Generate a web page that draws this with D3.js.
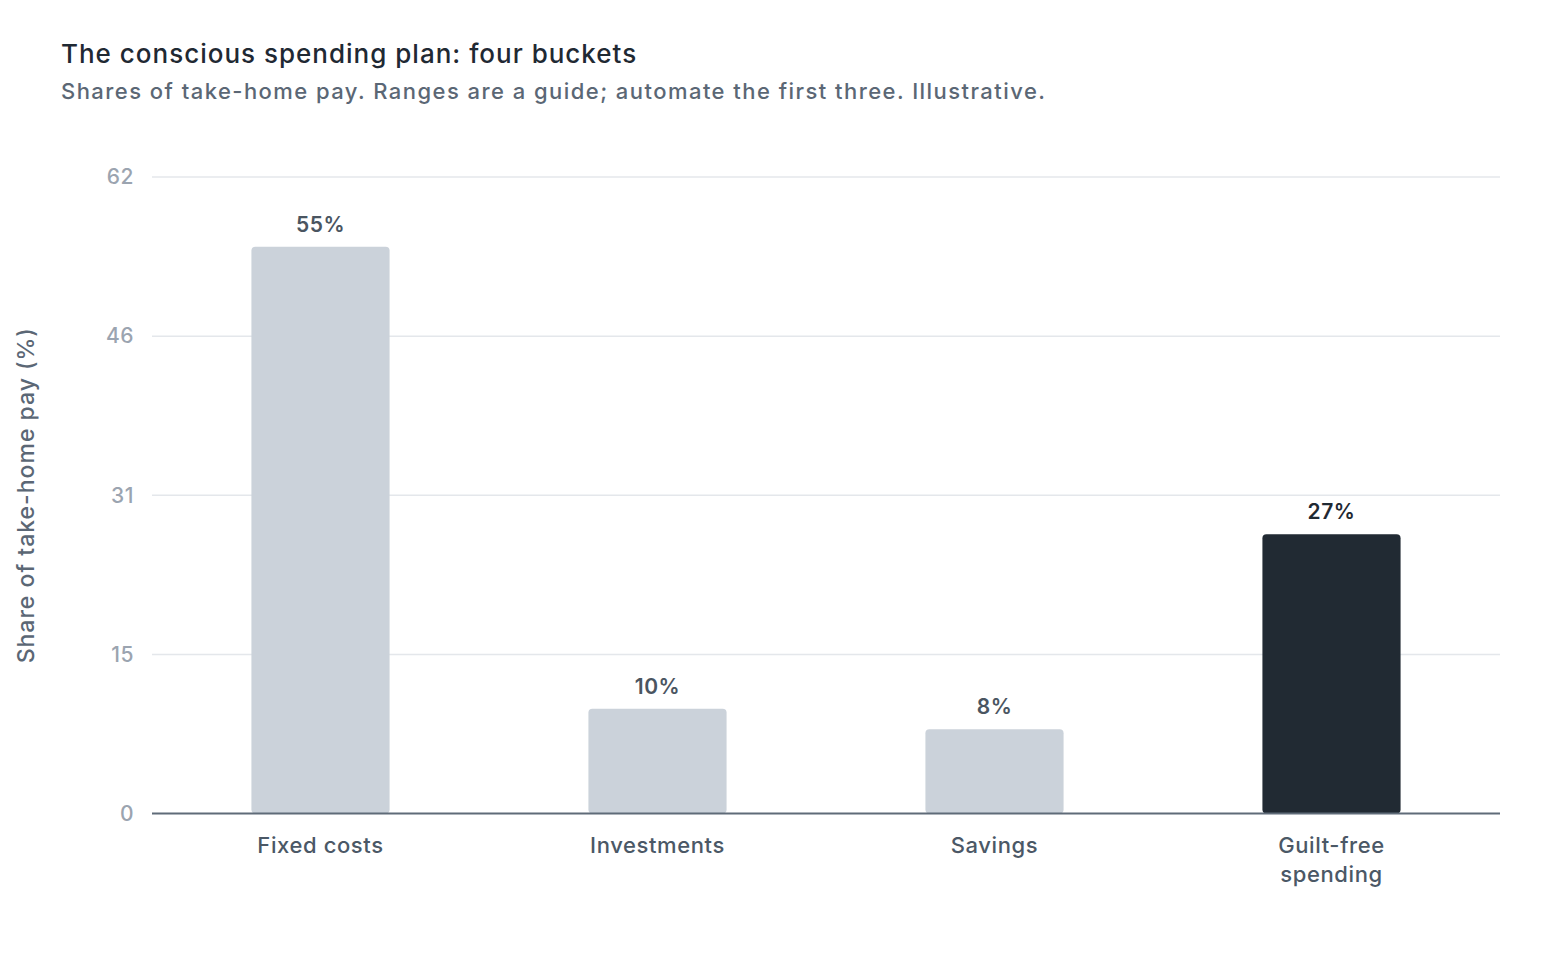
<!DOCTYPE html>
<html>
<head>
    <meta charset="utf-8" />
    <script src="https://cdn.jsdelivr.net/npm/d3@7"></script>
    <style>
        body { margin: 0; background: #fff; }
        text { font-family: Inter, "Open Sans", sans-serif; }
    </style>
</head>
<body>
    <script>
        // data
        var categories = ["Fixed costs", "Investments", "Savings", "Guilt-free spending"];
        var shares = [55, 10, 8, 27];
        var highlight = [false, false, false, true];
        var tickValues = [0, 15.5, 31, 46.5, 62];
        var tickLabels = ["0", "15", "31", "46", "62"];

        var width = 1560,
            height = 953,
            margin = { top: 177, right: 60, bottom: 140, left: 152 };

        var svg = d3.select("body").append("svg")
            .attr("width", width)
            .attr("height", height);

        svg.append("text")
            .attr("x", 61).attr("y", 63)
            .attr("font-size", "26px")
            .attr("font-weight", 500)
            .attr("letter-spacing", "1px")
            .attr("fill", "#1f2933")
            .text("The conscious spending plan: four buckets");

        svg.append("text")
            .attr("x", 61).attr("y", 99)
            .attr("font-size", "22px")
            .attr("font-weight", 500)
            .attr("letter-spacing", "1.45px")
            .attr("fill", "#5b6775")
            .text("Shares of take-home pay. Ranges are a guide; automate the first three. Illustrative.");

        var x = d3.scaleBand()
            .domain(categories)
            .range([margin.left, width - margin.right])
            .paddingInner(0.59)
            .paddingOuter(0.295);

        var y = d3.scaleLinear()
            .domain([0, 62])
            .range([813.5, margin.top]);

        // gridlines
        svg.append("g")
            .selectAll("line")
            .data(tickValues.slice(1))
            .enter().append("line")
            .attr("x1", margin.left)
            .attr("x2", width - margin.right)
            .attr("y1", function (d) { return y(d); })
            .attr("y2", function (d) { return y(d); })
            .attr("stroke", "#e4e7eb")
            .attr("stroke-width", 1.5);

        // y tick labels
        svg.append("g")
            .selectAll("text")
            .data(tickValues)
            .enter().append("text")
            .attr("x", 134)
            .attr("y", function (d) { return y(d); })
            .attr("dy", "0.35em")
            .attr("text-anchor", "end")
            .attr("font-size", "21px")
            .attr("font-weight", 500)
            .attr("letter-spacing", "0.5px")
            .attr("fill", "#9ba4b0")
            .text(function (d, i) { return tickLabels[i]; });

        svg.append("text")
            .attr("transform", "translate(34," + ((y(0) + y(62)) / 2) + ") rotate(-90)")
            .attr("text-anchor", "middle")
            .attr("font-size", "23px")
            .attr("font-weight", 500)
            .attr("letter-spacing", "1px")
            .attr("fill", "#5b6775")
            .text("Share of take-home pay (%)");

        var rows = categories.map(function (c, i) {
            return { cat: c, v: shares[i], hi: highlight[i] };
        });

        svg.append("g")
            .selectAll("rect")
            .data(rows)
            .enter().append("rect")
            .attr("x", function (d) { return x(d.cat); })
            .attr("width", x.bandwidth())
            .attr("y", function (d) { return y(d.v) - 2; })
            .attr("height", function (d) { return y(0) - y(d.v) + 2; })
            .attr("rx", 4)
            .attr("fill", function (d) { return d.hi ? "#212a33" : "#cbd2da"; });

        svg.append("g")
            .selectAll("text")
            .data(rows)
            .enter().append("text")
            .attr("x", function (d) { return x(d.cat) + x.bandwidth() / 2; })
            .attr("y", function (d) { return y(d.v) - 17; })
            .attr("text-anchor", "middle")
            .attr("font-size", "21px")
            .attr("font-weight", 600)
            .attr("letter-spacing", "0.5px")
            .attr("fill", function (d) { return d.hi ? "#1f2933" : "#4a5561"; })
            .text(function (d) { return d.v + "%"; });

        // baseline
        svg.append("line")
            .attr("x1", margin.left)
            .attr("x2", width - margin.right)
            .attr("y1", y(0))
            .attr("y2", y(0))
            .attr("stroke", "#5f6b78")
            .attr("stroke-width", 2);

        // category labels, wrapped
        var catText = svg.append("g")
            .selectAll("text")
            .data(categories)
            .enter().append("text")
            .attr("text-anchor", "middle")
            .attr("font-size", "22px")
            .attr("font-weight", 500)
            .attr("letter-spacing", "0.6px")
            .attr("fill", "#4b5866");

        catText.each(function (c) {
            var lines = c === "Guilt-free spending" ? ["Guilt-free", "spending"] : [c];
            var t = d3.select(this);
            lines.forEach(function (l, i) {
                t.append("tspan")
                    .attr("x", x(c) + x.bandwidth() / 2)
                    .attr("y", 853 + i * 29)
                    .text(l);
            });
        });
    </script>
</body>
</html>
